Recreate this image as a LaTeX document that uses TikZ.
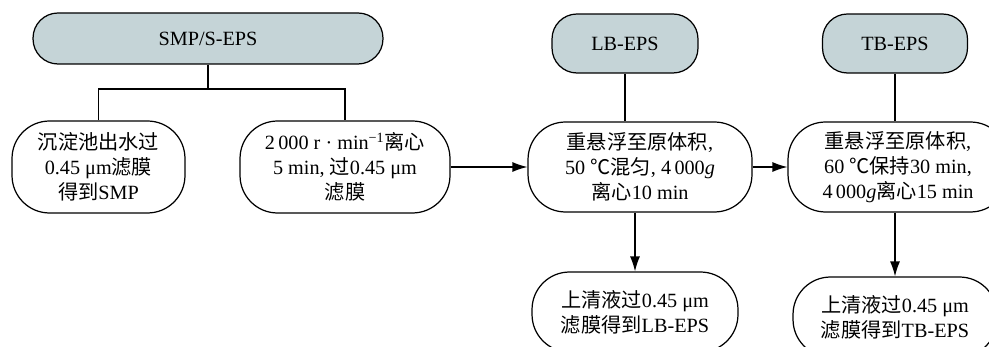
\documentclass[tikz,border=0pt]{standalone}
\usepackage{fontspec}
\setmainfont{Liberation Serif}
\newfontfamily\cjk{Noto Sans CJK SC}
\newcommand{\zh}[1]{{\cjk #1}}
\usetikzlibrary{arrows.meta}
\definecolor{headfill}{RGB}{197,212,215}

\begin{document}
\begin{tikzpicture}[x=0.02cm,y=-0.02cm,
  font=\fontsize{11.5}{14.2}\selectfont,
  head/.style={draw,line width=0.7pt,fill=headfill,rounded corners=0.5cm,inner sep=0pt},
  proc/.style={draw,line width=0.7pt,fill=white,rounded corners=0.75cm,align=center,inner sep=0pt},
  link/.style={line width=0.7pt},
  flow/.style={link,-{Latex[length=0.3cm,width=0.2cm]}}]
  \clip (0,0) rectangle (989,347);

  % top boxes
  \node[head,minimum width=7cm,minimum height=1.02cm] (smp) at (208,38.5) {SMP/S-EPS};
  \node[head,minimum width=2.92cm,minimum height=1.18cm] (lb) at (625,43.5) {LB-EPS};
  \node[head,minimum width=2.9cm,minimum height=1.18cm] (tb) at (895,43.5) {TB-EPS};

  % process boxes
  \node[proc,minimum width=3.46cm,minimum height=1.84cm] (smpf) at (98.5,167) {\zh{沉淀池出水过}\\0.45 μm\zh{滤膜}\\\zh{得到}SMP};
  \node[proc,minimum width=4.2cm,minimum height=1.84cm] (cent) at (345,167) {2\,000 r · min\textsuperscript{−1}\zh{离心}\\5 min, \zh{过}0.45 μm\\\zh{滤膜}};
  \node[proc,minimum width=4.48cm,minimum height=1.8cm] (lbp) at (640,167) {\zh{重悬浮至原体积},\\50 \zh{℃混匀}, 4\,000\textit{g}\\\zh{离心}10 min};
  \node[proc,minimum width=4.4cm,minimum height=1.8cm] (tbp) at (898,167) {\zh{重悬浮至原体积},\\60 \zh{℃保持}30 min,\\4\,000\textit{g}\zh{离心}15 min};

  % results
  \node[proc,minimum width=4.12cm,minimum height=1.6cm] (lbr) at (635,312) {\zh{上清液过}0.45 μm\\\zh{滤膜得到}LB-EPS};
  \node[proc,minimum width=4.08cm,minimum height=1.6cm] (tbr) at (895,317) {\zh{上清液过}0.45 μm\\\zh{滤膜得到}TB-EPS};

  \coordinate (fork) at (208,89);
  \draw[link] (smp) -- (fork);
  \draw[link] (smpf) |- (fork) -| (cent);
  \draw[flow] (cent) -- (lbp);
  \draw[link] (lb) -- (lb |- lbp.north);
  \draw[flow] (lbp) -- (tbp);
  \draw[link] (tb) -- (tb |- tbp.north);
  \draw[flow] (lbr |- lbp.south) -- (lbr);
  \draw[flow] (tbr |- tbp.south) -- (tbr);
\end{tikzpicture}
\end{document}
